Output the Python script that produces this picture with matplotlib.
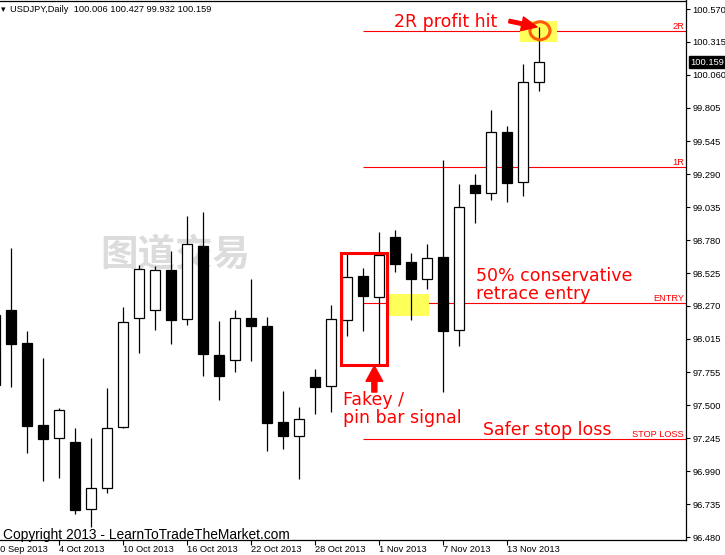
import matplotlib
matplotlib.use('Agg')
import matplotlib.pyplot as plt
from matplotlib.patches import Rectangle, Ellipse
from matplotlib.transforms import blended_transform_factory
import numpy as np

# ---------------- data ----------------
dates = ['30 Sep', '1 Oct', '2 Oct', '3 Oct', '4 Oct', '7 Oct', '8 Oct', '9 Oct', '10 Oct', '11 Oct',
         '14 Oct', '15 Oct', '16 Oct', '17 Oct', '18 Oct', '21 Oct', '22 Oct', '23 Oct', '24 Oct', '25 Oct',
         '28 Oct', '29 Oct', '30 Oct', '31 Oct', '1 Nov', '4 Nov', '5 Nov', '6 Nov', '7 Nov', '8 Nov',
         '11 Nov', '12 Nov', '13 Nov', '14 Nov', '15 Nov']
opens = [97.658, 98.238, 97.981, 97.348, 97.245, 97.214, 96.695, 96.857, 97.330, 98.174,
         98.236, 98.548, 98.166, 98.734, 97.890, 97.849, 98.177, 98.115, 97.369, 97.265,
         97.717, 97.647, 98.161, 98.500, 98.337, 98.802, 98.608, 98.476, 98.647, 98.084,
         99.207, 99.142, 99.615, 99.228, 100.006]
highs = [98.300, 98.716, 98.076, 97.864, 97.477, 97.322, 97.249, 97.632, 98.262, 98.587,
         98.579, 98.696, 98.967, 98.998, 98.153, 98.238, 98.479, 98.187, 97.611, 97.487,
         97.781, 98.275, 98.672, 98.562, 98.840, 98.858, 98.678, 98.750, 99.400, 99.214,
         99.292, 99.788, 99.664, 100.144, 100.427]
lows = [97.550, 97.644, 97.133, 96.916, 96.939, 96.656, 96.560, 96.819, 97.325, 97.908,
        98.084, 97.977, 98.122, 97.730, 97.541, 97.761, 97.846, 97.149, 97.164, 96.932,
        97.435, 97.451, 98.039, 98.078, 97.805, 98.531, 98.161, 98.399, 97.606, 97.962,
        98.915, 99.091, 99.077, 99.124, 99.932]
closes = [98.200, 97.979, 97.342, 97.242, 97.464, 96.693, 96.857, 97.322, 98.143, 98.554,
          98.546, 98.163, 98.747, 97.895, 97.730, 98.174, 98.117, 97.366, 97.265, 97.392,
          97.644, 98.166, 98.496, 98.345, 98.662, 98.593, 98.476, 98.639, 98.078, 99.039,
          99.147, 99.615, 99.220, 100.002, 100.159]

ytick_values = [96.480, 96.735, 96.990, 97.245, 97.500, 97.755, 98.015, 98.270, 98.525,
                98.780, 99.035, 99.290, 99.545, 99.805, 100.060, 100.315, 100.570]
ytick_labels = ['96.480', '96.735', '96.990', '97.245', '97.500', '97.755', '98.015', '98.270', '98.525',
                '98.780', '99.035', '99.290', '99.545', '99.805', '100.060', '100.315', '100.570']
xtick_idx = [0, 4, 8, 12, 16, 20, 24, 28, 32]
xtick_labels = ['30 Sep 2013', '4 Oct 2013', '10 Oct 2013', '16 Oct 2013', '22 Oct 2013',
                '28 Oct 2013', '1 Nov 2013', '7 Nov 2013', '13 Nov 2013']

level_names = ['2R', '1R', 'ENTRY', 'STOP LOSS']
level_values = [100.396, 99.343, 98.290, 97.237]
level_start_idx = 23
last_price = 100.159
header = 'USDJPY,Daily  100.006 100.427 99.932 100.159'

XLIM = (0.3125, 43.1875)
YLIM = (96.457, 100.636)

# ---------------- figure ----------------
plt.rcParams['font.family'] = ['Liberation Sans', 'DejaVu Sans']
W, H = 725, 555
fig = plt.figure(figsize=(W / 100, H / 100), dpi=100)
fig.patch.set_facecolor('white')
ax = fig.add_axes([0, 15 / H, 686 / W, (540 - 0.5) / H])
ax.set_facecolor('white')

for s in ['top', 'right', 'bottom']:
    ax.spines[s].set_color('black')
    ax.spines[s].set_linewidth(0.9)
ax.spines['left'].set_visible(False)

# candles
x = np.arange(len(opens))
o = np.array(opens); c = np.array(closes); hi = np.array(highs); lo = np.array(lows)
up = c >= o
ax.vlines(x, lo, hi, color='black', lw=0.9, zorder=3)
ax.bar(x, np.abs(c - o), bottom=np.minimum(o, c), width=0.6,
       color=np.where(up, 'white', 'black'), edgecolor='black', linewidth=0.9, zorder=4)

# watermark
ax.text(11.25, 98.664, '图道交易', family=['Noto Sans CJK SC'], fontsize=27, fontweight='bold',
        color='#dcdcdc', ha='center', va='center', zorder=1)

# levels
ax.hlines(level_values, level_start_idx, XLIM[1], color='#ff0000', lw=0.8, zorder=2)
btrans = blended_transform_factory(ax.transAxes, ax.transData)
for name, val in zip(level_names, level_values):
    ax.annotate(name, xy=(1, val), xycoords=btrans, xytext=(-2, 2), textcoords='offset pixels',
                ha='right', va='baseline', fontsize=6.7, color='#ff0000', annotation_clip=False)

# yellow highlights
ax.add_patch(Rectangle((24.54, 98.194), 27.14 - 24.54, 98.362 - 98.194,
                       fc='#ffff5a', ec='none', zorder=2.5))
ax.add_patch(Rectangle((32.81, 100.314), 35.10 - 32.81, 100.477 - 100.314,
                       fc='#ffff5a', ec='none', zorder=2.5))

# circle at 2R hit
ax.add_patch(Ellipse((34.06, 100.402), 1.25, 0.139, fill=False, ec='#ff5a0a', lw=2.2, zorder=6))

# red signal box
ax.add_patch(Rectangle((21.61, 97.811), 24.49 - 21.61, 98.678 - 97.811,
                       fill=False, ec='#ff0000', lw=2.2, zorder=6))

# arrows
ax.annotate('', xy=(23.71, 97.805), xytext=(23.71, 97.603),
            arrowprops=dict(arrowstyle='simple,head_length=11,head_width=12,tail_width=3.6',
                            mutation_scale=1, color='#ff0000', shrinkA=0, shrinkB=0), zorder=6)
ax.annotate('', xy=(33.875, 100.431), xytext=(32.125, 100.477),
            arrowprops=dict(arrowstyle='simple,head_length=11,head_width=10,tail_width=2.5',
                            mutation_scale=1, color='#ff0000', shrinkA=0, shrinkB=0), zorder=6)

# annotation texts
afont = dict(family=['DejaVu Sans'], fontsize=12.5, color='#ff0000', ha='left', va='baseline', zorder=7)
ax.text(24.94, 100.431, '2R profit hit', **afont)
ax.text(21.75, 97.503, 'Fakey /', **afont)
ax.text(21.75, 97.361, 'pin bar signal', **afont)
ax.text(30.04, 98.465, '50% conservative', **afont)
ax.text(30.04, 98.321, 'retrace entry', **afont)
ax.text(30.5, 97.268, 'Safer stop loss', **afont)

# y axis on right
ax.yaxis.tick_right()
ax.set_yticks(ytick_values)
ax.set_yticklabels(ytick_labels)
ax.tick_params(axis='y', direction='out', length=3, width=0.8, pad=1.5, labelsize=6.7,
               colors='black')

# x axis ticks and labels
ax.set_xticks(xtick_idx)
ax.set_xticklabels([])
ax.tick_params(axis='x', direction='out', length=3.6, width=0.8)
xtrans = blended_transform_factory(ax.transData, ax.transAxes)
for pos, lab in zip(xtick_idx, xtick_labels):
    ax.annotate(lab, xy=(pos, 0), xycoords=xtrans, xytext=(0, -5), textcoords='offset pixels',
                ha='left', va='top', fontsize=6.7, color='black', annotation_clip=False)

# limits last (set_ticks may expand them)
ax.set_xlim(*XLIM)
ax.set_ylim(*YLIM)

# current price box
ax.annotate(f'{last_price:.3f}', xy=(1, last_price), xycoords=btrans, xytext=(4, 0),
            textcoords='offset pixels', ha='left', va='center', fontsize=6.7, color='white',
            bbox=dict(boxstyle='square,pad=0.15', fc='black', ec='black'), annotation_clip=False,
            zorder=8)

# header and copyright
fig.text(0.5 / W, 1 - 12 / H, '\u25be', family=['DejaVu Sans'], fontsize=6.5, va='baseline', ha='left')
fig.text(10 / W, 1 - 11.7 / H, header, fontsize=6.7, va='baseline', ha='left')
fig.text(3 / W, (H - 539) / H, 'Copyright 2013 - LearnToTradeTheMarket.com', fontsize=9.9,
         va='baseline', ha='left', color='black', zorder=10)

fig.savefig('out.png', dpi=100)
